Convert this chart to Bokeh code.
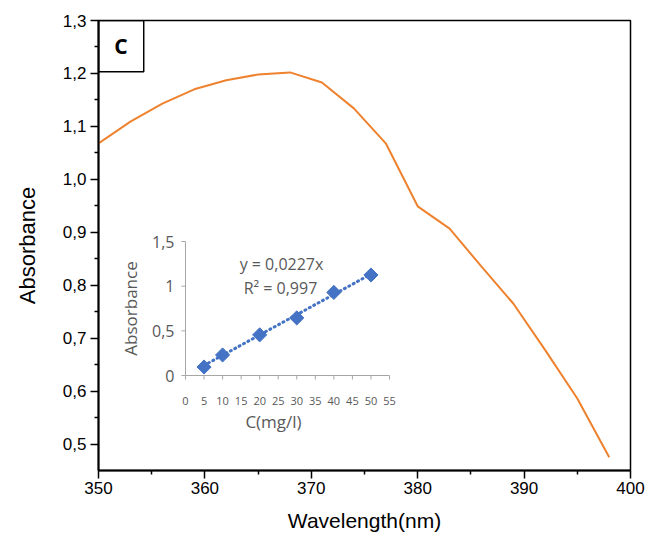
import math
from bokeh.plotting import figure
from bokeh.models import Range1d, FixedTicker, CustomJSTickFormatter, BoxAnnotation, Label
from bokeh.core.properties import value
from bokeh.embed import file_html
from bokeh.resources import INLINE

# ---------------- data ----------------
wavelength = [350, 353, 356, 359, 362, 365, 368, 371, 374, 377, 380, 383, 386, 389, 392, 395, 398]
absorbance = [1.068, 1.109, 1.143, 1.170, 1.187, 1.198, 1.202, 1.183, 1.134, 1.068,
              0.949, 0.907, 0.835, 0.765, 0.677, 0.586, 0.475]

conc = [5, 10, 20, 30, 40, 50]
cal_abs = [0.095, 0.23, 0.455, 0.645, 0.93, 1.125]
slope = 0.0227
r2 = 0.997

main_x_ticks = [350, 360, 370, 380, 390, 400]
main_y_ticks = [0.5, 0.6, 0.7, 0.8, 0.9, 1.0, 1.1, 1.2, 1.3]
inset_x_ticks = [0, 5, 10, 15, 20, 25, 30, 35, 40, 45, 50, 55]
inset_y_ticks = [0, 0.5, 1, 1.5]
inset_y_labels = ["0", "0,5", "1", "1,5"]
panel_letter = "C"

# ---------------- layout (figure pixel coords) ----------------
W, H = 645, 537
FL, FR, FT, FB = 98, 630, 20, 470
IX0, IX55 = 185, 389      # inset x: 0 and 55
IY0, IY15 = 375, 241      # inset y: 0 and 1.5

kx = (IX55 - IX0) / 55.0
ky = (IY0 - IY15) / 1.5
ix_start = -(IX0 - FL) / kx
ix_end = 55 + (FR - IX55) / kx
iy_start = -(FB - IY0) / ky
iy_end = 1.5 + (IY15 - FT) / ky

p = figure(width=W, height=H, x_range=Range1d(350, 400), y_range=Range1d(0.45, 1.3),
           output_backend="svg", toolbar_location=None,
           min_border_left=FL, min_border_right=W - FR, min_border_top=FT, min_border_bottom=H - FB)
p.grid.visible = False
p.outline_line_color = "black"
p.outline_line_width = 1.5
p.background_fill_color = "white"
p.border_fill_color = "white"

p.extra_x_ranges = {"ix": Range1d(ix_start, ix_end)}
p.extra_y_ranges = {"iy": Range1d(iy_start, iy_end)}

# axes
p.xaxis.ticker = FixedTicker(ticks=main_x_ticks, minor_ticks=[t + 5 for t in main_x_ticks[:-1]])
p.yaxis.ticker = FixedTicker(ticks=main_y_ticks, minor_ticks=[round(t + 0.05, 2) for t in main_y_ticks[:-1]])
p.xaxis.formatter = CustomJSTickFormatter(code="return tick.toFixed(0);")
p.yaxis.formatter = CustomJSTickFormatter(code="return tick.toFixed(1).replace('.', ',');")
p.xaxis.axis_label = "Wavelength(nm)"
p.yaxis.axis_label = "Absorbance"
for ax in (p.xaxis[0], p.yaxis[0]):
    ax.axis_line_width = 2
    ax.axis_line_color = "black"
    ax.major_tick_line_width = 1.5
    ax.minor_tick_line_width = 1.5
    ax.major_tick_out = 8
    ax.major_tick_in = 0
    ax.minor_tick_out = 4
    ax.minor_tick_in = 0
    ax.major_label_text_font = "Liberation Sans"
    ax.major_label_text_font_size = "17px"
    ax.major_label_text_color = "black"
    ax.axis_label_text_font = "Liberation Sans"
    ax.axis_label_text_font_style = "normal"
    ax.axis_label_text_color = "black"
p.xaxis.major_label_standoff = 3
p.yaxis.major_label_standoff = 4
p.xaxis.axis_label_text_font_size = "21px"
p.yaxis.axis_label_text_font_size = "22px"
p.xaxis.axis_label_standoff = 12
p.yaxis.axis_label_standoff = 20

# main spectrum
p.line(wavelength, absorbance, line_color="#EE822F", line_width=2)

# panel letter box
p.add_layout(BoxAnnotation(left=350, right=354.25, bottom=1.203, top=1.3,
                           fill_alpha=0, line_color="black", line_alpha=1.0, line_width=1.5))
p.add_layout(Label(x=352.12, y=1.2515, text=panel_letter, text_align="center",
                   text_baseline="middle", text_font="Open Sans", text_font_style="bold",
                   text_font_size="21px", text_color="black"))

# ---------------- inset (calibration) ----------------
GRAY_AX = "#A6A6A6"
GRAY_TX = "#595959"
BLUE = "#4472C4"
R = dict(x_range_name="ix", y_range_name="iy")

# axis lines
p.segment(x0=[0], y0=[0], x1=[0], y1=[inset_y_ticks[-1]], line_color=GRAY_AX, line_width=1, **R)
p.segment(x0=[0], y0=[0], x1=[inset_x_ticks[-1]], y1=[0], line_color=GRAY_AX, line_width=1, **R)
# ticks
p.segment(x0=[-4 / kx] * len(inset_y_ticks), y0=inset_y_ticks, x1=[0] * len(inset_y_ticks),
          y1=inset_y_ticks, line_color=GRAY_AX, line_width=1, **R)
p.segment(x0=inset_x_ticks, y0=[0] * len(inset_x_ticks), x1=inset_x_ticks,
          y1=[-4 / ky] * len(inset_x_ticks), line_color=GRAY_AX, line_width=1, **R)
# tick labels
p.text(x=[-11 / kx] * len(inset_y_ticks), y=inset_y_ticks, text=inset_y_labels,
       text_align="right", text_baseline="middle", text_font=value("Open Sans"),
       text_font_size="16px", text_color=GRAY_TX, **R)
p.text(x=inset_x_ticks, y=[-25 / ky] * len(inset_x_ticks), text=[str(t) for t in inset_x_ticks],
       text_align="center", text_baseline="middle", text_font=value("Open Sans"),
       text_font_size="11px", text_color=GRAY_TX, **R)
# axis titles
p.text(x=[(273 - 185) / kx], y=[-46 / ky], text=["C(mg/l)"], text_align="center",
       text_baseline="middle", text_font=value("Open Sans"), text_font_size="17px",
       text_color=GRAY_TX, **R)
p.text(x=[-55 / kx], y=[67 / ky], text=["Absorbance"], angle=math.pi / 2, text_align="center",
       text_baseline="middle", text_font=value("Open Sans"), text_font_size="17px",
       text_color=GRAY_TX, **R)

# trendline
tx = [conc[0], conc[-1]]
ty = [slope * x for x in tx]
p.line(tx, ty, line_color=BLUE, line_width=3, line_dash="1 4", line_cap="round", **R)
# markers
p.scatter(conc, cal_abs, marker="square", angle=math.pi / 4, size=10,
          fill_color=BLUE, line_color=BLUE, **R)

# equation
eq = ("y = %.4fx" % slope).replace(".", ",")
r2txt = ("R² = %.3f" % r2).replace(".", ",")
p.text(x=[96 / kx, 95 / kx], y=[112 / ky, 88 / ky], text=[eq, r2txt], text_align="center",
       text_baseline="middle", text_font=value("Open Sans"), text_font_size="16px",
       text_color=GRAY_TX, **R)

open("out.html", "w").write(file_html(p, INLINE))
